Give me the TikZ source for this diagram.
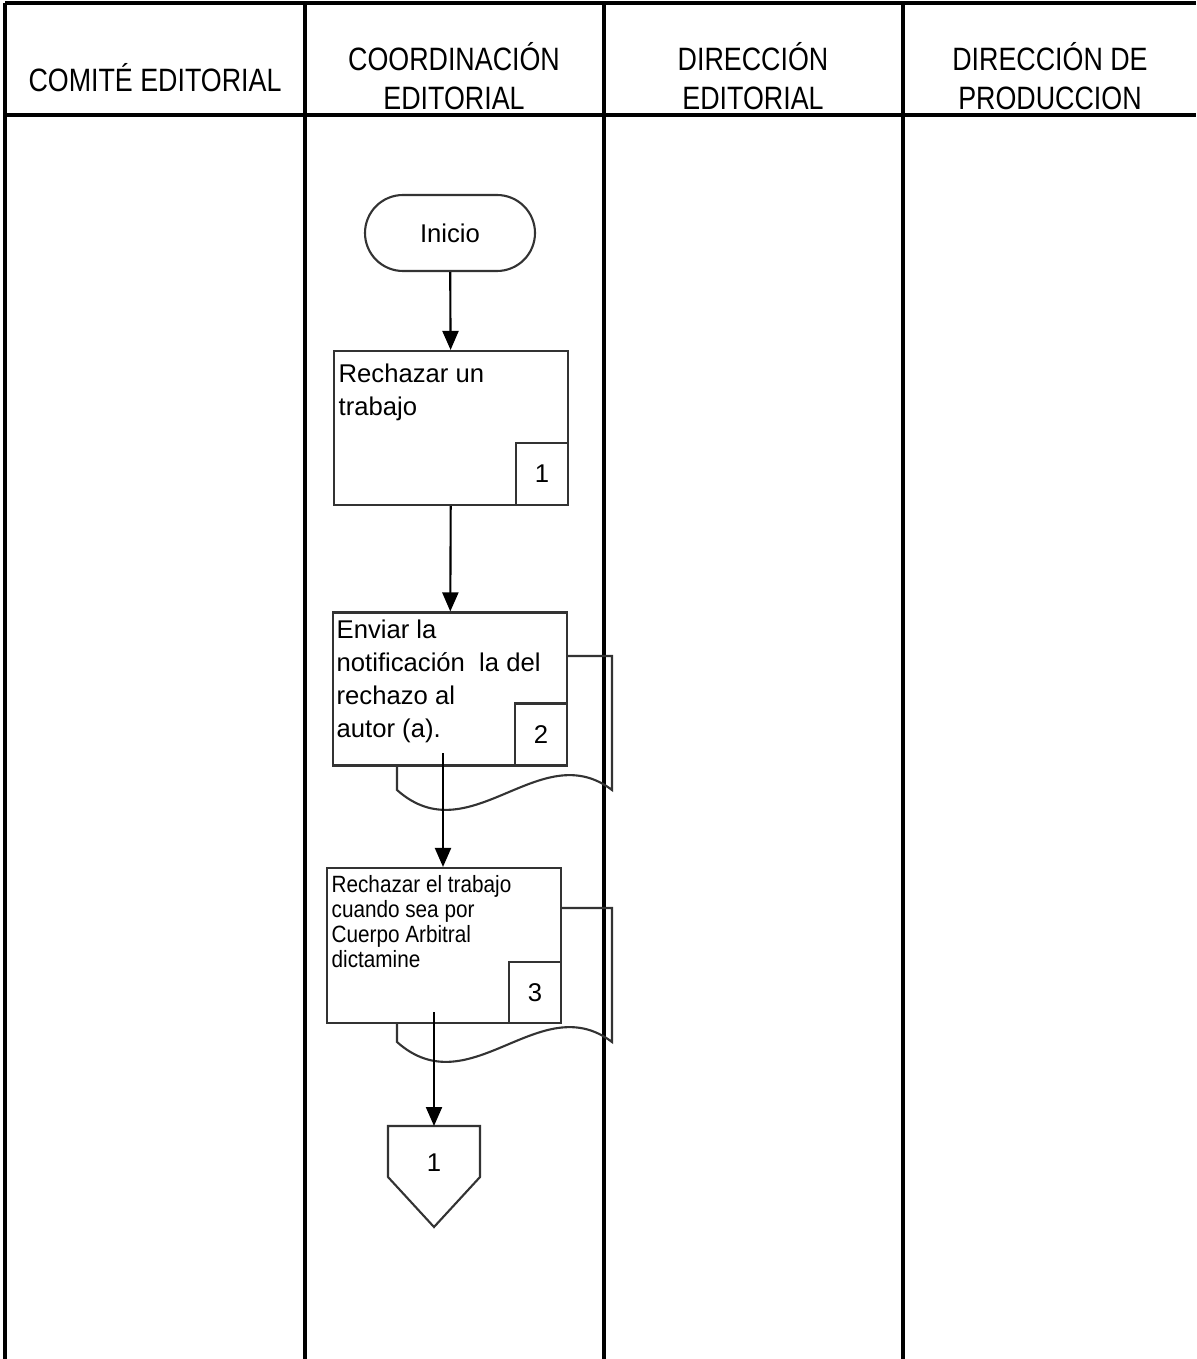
\documentclass[tikz,border=0pt]{standalone}
\usepackage{fontspec}
\setmainfont{Liberation Sans}
\newfontfamily\narrowfont{Liberation Sans}[FakeStretch=0.83]
\newfontfamily\tightfont{Liberation Sans}[FakeStretch=0.88]
\usetikzlibrary{arrows.meta,calc,positioning}

\begin{document}
\begin{tikzpicture}[x=0.1mm, y=-0.1mm, >={Triangle[length=1.9mm,width=1.6mm]},
  every node/.style={font=\fontsize{7.3}{9.4}\selectfont},
  lane/.style={font=\narrowfont\fontsize{9.2}{11}\selectfont,align=center},
  procbox/.style={draw=black!80,line width=0.6pt,fill=white,inner sep=0pt,
                  minimum width=23.4mm,minimum height=15.4mm},
  numbox/.style={draw=black!80,line width=0.6pt,fill=white,inner sep=0pt,
                 minimum width=5.2mm,minimum height=6.2mm},
  boxtext/.style={align=left,inner sep=0pt},
  startbox/.style={draw=black!80,line width=0.6pt,rounded corners=3.8mm,
                   minimum width=17mm,minimum height=7.6mm},
  docshape/.style={draw=black!80,line width=0.6pt},
  flow/.style={->,line width=0.6pt}]
 \useasboundingbox (0,0) rectangle (1196,1359);
 % lanes
 \draw[line width=0.9pt] (5,3) -- (1196,3) (5,115) -- (1196,115);
 \draw[line width=0.9pt] (5,3) -- (5,1359);
 \foreach \x in {305,604,903}
   \draw[line width=0.9pt] (\x,3) -- (\x,1359);
 \node[lane] (comite) at (155,78) {COMITÉ EDITORIAL};
 \node[lane] (coord) at (454,76) {COORDINACIÓN\\EDITORIAL};
 \node[lane] (direccion) at (753,76) {DIRECCIÓN\\EDITORIAL};
 \node[lane] (produccion) at (1050,76) {DIRECCIÓN DE\\PRODUCCION};

 % flow
 \node[startbox] (inicio) at (450,233) {Inicio};
 \node[procbox] (rechazo) at (451,428) {};
 \node[boxtext,anchor=north west] (rechazotxt)
    at ([shift={(5,13)}]rechazo.north west) {Rechazar un\\trabajo};
 \node[numbox,anchor=south east] (num1) at (rechazo.south east) {1};

 \draw[docshape] (567,656) -- (612,656) -- (612,790)
    .. controls (540,735) and (470,855) .. (397,790) -- (397,765);
 \node[procbox,minimum height=15.3mm] (notif) at (450,689) {};
 \node[boxtext,anchor=north west] (notiftxt)
    at ([shift={(4,8)}]notif.north west)
    {Enviar la\\notificación\ \ la del\\rechazo al\\autor (a).};
 \node[numbox,anchor=south east] (num2) at (notif.south east) {2};
 \coordinate (notifout) at (443,753);

 \draw[docshape] (561,908) -- (612,908) -- (612,1042)
    .. controls (540,987) and (470,1107) .. (397,1042) -- (397,1023);
 \node[procbox,minimum height=15.5mm] (dictamen) at (444,945.5) {};
 \node[boxtext,anchor=north west,font=\tightfont\fontsize{6.7}{7.1}\selectfont]
    (dictamentxt) at ([shift={(5,8)}]dictamen.north west)
    {Rechazar el trabajo\\cuando sea por\\Cuerpo Arbitral\\dictamine};
 \node[numbox,anchor=south east,minimum height=6.1mm] (num3)
    at (dictamen.south east) {3};
 \coordinate (dictout) at (434,1012);

 \draw[docshape] (388,1126) -- (480,1126) -- (480,1177) -- (434,1227)
    -- (388,1177) -- cycle;
 \node[inner sep=0pt,minimum width=9.2mm,minimum height=7.2mm,anchor=north]
    (conector) at (434,1126) {1};

 \draw[flow] (inicio) -- (rechazo);
 \draw[flow] (rechazo) -- (notif);
 \draw[flow] (notifout) -- (notifout |- dictamen.north);
 \draw[flow] (dictout) -- (conector.north);
\end{tikzpicture}
\end{document}
